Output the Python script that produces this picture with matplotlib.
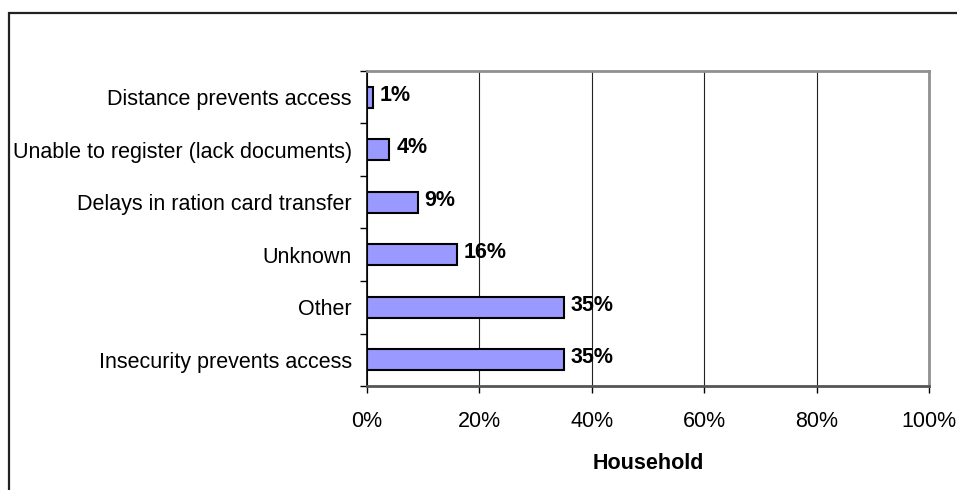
import matplotlib.pyplot as plt
from matplotlib.patches import Rectangle
from matplotlib.ticker import FixedLocator

plt.rcParams['font.family'] = ['Liberation Sans', 'DejaVu Sans']

# Reasons, listed bottom to top as they appear on the axis
reasons = [
    'Insecurity prevents access',
    'Other',
    'Unknown',
    'Delays in ration card transfer',
    'Unable to register (lack documents)',
    'Distance prevents access',
]
share = [35, 35, 16, 9, 4, 1]  # percent of households
xticks = [0, 20, 40, 60, 80, 100]

fig = plt.figure(figsize=(9.57, 4.90), dpi=100)
ax = fig.add_axes([367 / 957, 1 - 386 / 490, (929 - 367) / 957, (386 - 71) / 490])

# outer frame of the figure box (only left and top edges show)
fig.patches.append(Rectangle((8.5 / 957, -0.1), 1.2, 1 - 13.5 / 490 + 0.1,
                             transform=fig.transFigure, fill=False,
                             edgecolor='#222222', linewidth=1.6))

ypos = list(range(len(reasons)))
ax.barh(ypos, share, height=0.4, color='#9999FF', edgecolor='black',
        linewidth=1.5, zorder=3)

for y, v in zip(ypos, share):
    ax.annotate(f'{v}%', (v, y), xytext=(5, 1.5), textcoords='offset points',
                va='center', ha='left', fontsize=15.5, fontweight='bold',
                zorder=4)

ax.set_xlim(0, 100)
ax.set_ylim(-0.5, len(reasons) - 0.5)
ax.set_xticks(xticks)
ax.set_xticklabels([f'{t}%' for t in xticks], fontsize=15.5)
ax.set_yticks(ypos)
ax.set_yticklabels(reasons, fontsize=15.5)
ax.tick_params(axis='y', length=0, pad=11)
ax.yaxis.set_minor_locator(FixedLocator([i - 0.5 for i in range(len(reasons) + 1)]))
ax.tick_params(axis='y', which='minor', length=5, width=1, color='black')
ax.tick_params(axis='x', length=5, width=1, color='black', pad=13)

ax.grid(axis='x', color='#222222', linewidth=0.8, zorder=0)
ax.spines['left'].set_color('black')
ax.spines['left'].set_linewidth(1.2)
ax.spines['bottom'].set_color('#555555')
ax.spines['bottom'].set_linewidth(2)
for s in ('top', 'right'):
    ax.spines[s].set_color('#909090')
    ax.spines[s].set_linewidth(2)

ax.set_xlabel('Household', fontsize=15.5, fontweight='bold', labelpad=15)

fig.savefig('out.png', dpi=100)
